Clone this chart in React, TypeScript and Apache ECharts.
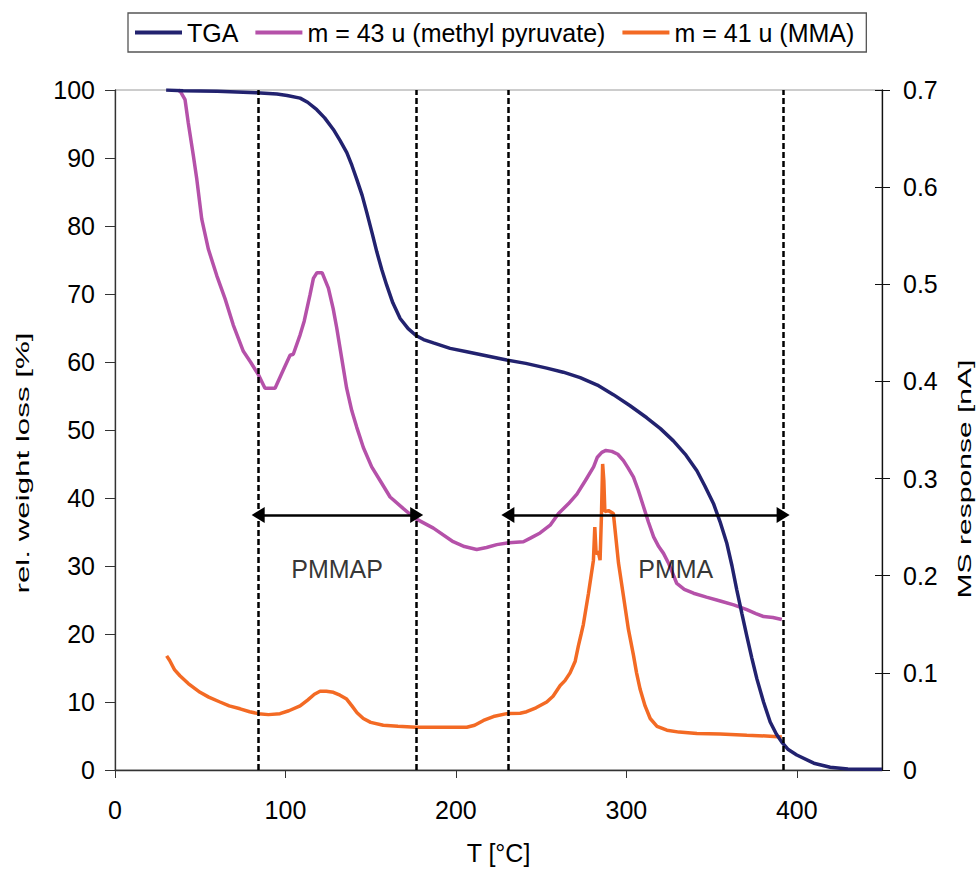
import React, { useEffect, useRef } from "react";
import * as echarts from "echarts";

// TGA curve: temperature [°C] and relative weight [%]
const tgaT = [30, 40, 60, 83, 95, 101, 108.6, 113, 118.4, 123, 128.1, 132, 136, 139, 141.8, 145, 147.7, 151, 153.6, 156.5, 159.4, 163, 167.3, 172, 176.6, 181, 186.8, 196.6, 206.4, 214.2, 229.8, 241, 253.3, 263, 272.9, 283, 292.4, 302, 312, 320, 327.6, 335, 341.4, 346, 351.1, 355, 359, 362, 364.8, 367.8, 370.7, 373.6, 376.6, 380.5, 384.4, 388, 391.2, 395, 400, 410, 419.6, 430, 440, 450];
const tgaW = [100, 99.9, 99.8, 99.6, 99.4, 99.2, 98.8, 98.2, 97.1, 95.9, 94.2, 92.6, 90.8, 88.9, 86.9, 84.5, 82.0, 78.8, 76.2, 73.6, 71.3, 68.7, 66.4, 64.9, 63.9, 63.3, 62.8, 62.0, 61.5, 61.1, 60.3, 59.8, 59.1, 58.5, 57.7, 56.6, 55.2, 53.6, 51.8, 50.2, 48.4, 46.3, 44.0, 41.8, 39.2, 36.5, 33.3, 30.0, 26.5, 23.0, 19.7, 16.5, 13.4, 10.0, 7.05, 5.3, 4.1, 3.0, 2.2, 1.0, 0.4, 0.15, 0.1, 0.1];

// m = 43 u (methyl pyruvate): temperature and MS response [nA]
const m43T = [37, 38.5, 41.1, 43, 46, 48, 50.9, 54.8, 59.7, 64.6, 69.4, 75.3, 79.5, 84.1, 88, 93.9, 98.8, 102.7, 104.6, 108.6, 111, 114.4, 116.4, 118.5, 121.5, 125.2, 128, 130.1, 133, 135.9, 138.9, 141.8, 145.7, 150.6, 155.5, 161.4, 169.2, 176.1, 186.8, 198.4, 205, 212.2, 218, 224, 231, 239.6, 244, 249.4, 255.3, 260.2, 266, 271, 276, 280.8, 283, 285.6, 288, 291.5, 295, 298.3, 301, 304.2, 307, 310.1, 313, 316, 319, 321.8, 325, 329.6, 334, 339.4, 347, 355.1, 363, 370.7, 376, 380.5, 386, 391.2];
const m43V = [0.7, 0.698, 0.69, 0.666, 0.632, 0.608, 0.567, 0.536, 0.509, 0.485, 0.458, 0.431, 0.42, 0.407, 0.393, 0.393, 0.412, 0.427, 0.428, 0.448, 0.462, 0.489, 0.506, 0.512, 0.512, 0.496, 0.475, 0.455, 0.424, 0.393, 0.37, 0.353, 0.332, 0.312, 0.298, 0.281, 0.269, 0.259, 0.249, 0.235, 0.23, 0.227, 0.229, 0.232, 0.234, 0.235, 0.239, 0.244, 0.252, 0.264, 0.274, 0.284, 0.298, 0.312, 0.322, 0.327, 0.329, 0.328, 0.325, 0.3185, 0.311, 0.3015, 0.288, 0.271, 0.255, 0.24, 0.23, 0.223, 0.212, 0.192, 0.186, 0.182, 0.178, 0.174, 0.17, 0.165, 0.161, 0.158, 0.157, 0.155];

// m = 41 u (MMA): temperature and MS response [nA]
const m41T = [30.3, 32, 35, 38.1, 43, 49.9, 55, 61.6, 67, 73.4, 79, 84.1, 90, 96.8, 102, 108.6, 113, 117, 120.3, 124, 128.1, 132, 135.9, 139, 142, 145.7, 150, 157.4, 166, 176.6, 190, 206.4, 211, 216.2, 222, 229.8, 237.7, 241.5, 247, 253.3, 257, 261.2, 264, 267, 270, 271.9, 273.5, 274.8, 277.8, 280.7, 281.5, 282.3, 283.5, 284.6, 285.4, 286.1, 286.8, 287.4, 289.5, 292.4, 295.4, 298.3, 301.2, 304.2, 306, 308.1, 311, 314, 318, 323.8, 331, 341.4, 355, 370.7, 382, 391.2];
const m41V = [0.1175, 0.113, 0.103, 0.097, 0.089, 0.08, 0.075, 0.07, 0.066, 0.063, 0.06, 0.058, 0.057, 0.058, 0.061, 0.066, 0.072, 0.078, 0.081, 0.081, 0.08, 0.077, 0.073, 0.066, 0.059, 0.053, 0.049, 0.046, 0.045, 0.044, 0.044, 0.044, 0.046, 0.051, 0.055, 0.058, 0.0585, 0.06, 0.064, 0.07, 0.076, 0.087, 0.092, 0.1, 0.112, 0.128, 0.14, 0.15, 0.182, 0.216, 0.25, 0.222, 0.225, 0.216, 0.262, 0.315, 0.298, 0.266, 0.267, 0.264, 0.213, 0.179, 0.145, 0.118, 0.1, 0.083, 0.066, 0.053, 0.045, 0.041, 0.039, 0.0375, 0.037, 0.0358, 0.035, 0.034];

// Annotations
const stageBounds = [84, 177, 230.5, 392];
const arrowLevel = 37.5;
const stageLabels = ["PMMAP", "PMMA"];
const stageLabelT = [130.3, 329];
const stageLabelY = [29.5, 29.5];

const seriesNames = ["TGA", "m = 43 u (methyl pyruvate)", "m = 41 u (MMA)"];
const colors = ["#22226f", "#b551a9", "#f36a24"];

const FONT = "Liberation Sans";

const zip = (a: number[], b: number[]) => a.map((x, i) => [x, b[i]]);

export default function App() {
  const ref = useRef<HTMLDivElement>(null);
  useEffect(() => {
    if (!ref.current) return;
    const chart = echarts.init(ref.current, undefined, { renderer: "svg" });
    const labelStyle = { fontFamily: FONT, fontSize: 25, color: "#000" };
    chart.setOption({
      animation: false,
      backgroundColor: "#fff",
      grid: { left: 115, right: 94, top: 90, bottom: 95, show: true, borderColor: "#9a9a9a", borderWidth: 1 },
      legend: {
        data: seriesNames,
        left: 128,
        top: 13,
        padding: [7, 12, 7, 7],
        borderColor: "#555",
        borderWidth: 1.3,
        icon: "rect",
        itemWidth: 47,
        itemHeight: 4,
        itemGap: 17,
        textStyle: { fontFamily: FONT, fontSize: 25, color: "#000" },
      },
      xAxis: {
        type: "value",
        min: 0,
        max: 450,
        interval: 100,
        name: "T [°C]",
        nameLocation: "middle",
        nameGap: 70,
        nameTextStyle: { fontFamily: FONT, fontSize: 25, color: "#000" },
        axisLine: { lineStyle: { color: "#333", width: 1.3 } },
        axisTick: { show: true, length: 8, lineStyle: { color: "#333" } },
        axisLabel: { ...labelStyle, margin: 27, showMaxLabel: false },
        splitLine: { show: false },
      },
      yAxis: [
        {
          type: "value",
          min: 0,
          max: 100,
          interval: 10,
          position: "left",
          axisLine: { show: true, lineStyle: { color: "#333", width: 1.3 } },
          axisTick: { show: true, length: 10, lineStyle: { color: "#333" } },
          axisLabel: { ...labelStyle, margin: 20 },
          splitLine: { show: false },
        },
        {
          type: "value",
          min: 0,
          max: 0.7,
          interval: 0.1,
          position: "right",
          axisLine: { show: true, lineStyle: { color: "#111", width: 1.3 } },
          axisTick: { show: true, length: 8, lineStyle: { color: "#111" } },
          axisLabel: { ...labelStyle, margin: 21 },
          splitLine: { show: false },
        },
        {
          type: "value",
          min: 0,
          max: 0.7,
          interval: 0.1,
          position: "right",
          offset: 0,
          axisLine: { show: false },
          axisTick: { show: true, inside: true, length: 7, lineStyle: { color: "#111" } },
          axisLabel: { show: false },
          splitLine: { show: false },
        },
      ],
      graphic: [
        {
          type: "text",
          x: 23,
          y: 463,
          rotation: Math.PI / 2,
          scaleX: 1.74,
          style: {
            text: "rel. weight loss [%]",
            fontFamily: FONT,
            fontSize: 18,
            fill: "#000",
            align: "center",
            verticalAlign: "middle",
            textAlign: "center",
            textVerticalAlign: "middle",
          },
        },
        {
          type: "text",
          x: 965,
          y: 479,
          rotation: Math.PI / 2,
          scaleX: 1.67,
          style: {
            text: "MS response [nA]",
            fontFamily: FONT,
            fontSize: 18,
            fill: "#000",
            align: "center",
            verticalAlign: "middle",
            textAlign: "center",
            textVerticalAlign: "middle",
          },
        },
      ],
      series: [
        {
          name: seriesNames[1],
          type: "line",
          yAxisIndex: 1,
          data: zip(m43T, m43V),
          symbol: "none",
          color: colors[1],
          lineStyle: { color: colors[1], width: 3.5 },
          z: 2,
        },
        {
          name: seriesNames[2],
          type: "line",
          yAxisIndex: 1,
          data: zip(m41T, m41V),
          symbol: "none",
          color: colors[2],
          lineStyle: { color: colors[2], width: 3.5 },
          z: 3,
        },
        {
          name: seriesNames[0],
          type: "line",
          yAxisIndex: 0,
          data: zip(tgaT, tgaW),
          symbol: "none",
          color: colors[0],
          lineStyle: { color: colors[0], width: 3.5 },
          z: 4,
          markLine: {
            silent: true,
            symbol: "none",
            label: { show: false },
            lineStyle: { color: "#000", width: 2.5, type: [6, 3] },
            data: stageBounds.map((t) => ({ xAxis: t })),
          },
        },
        {
          name: "annotations",
          type: "scatter",
          yAxisIndex: 0,
          symbolSize: 0,
          silent: true,
          data: stageLabels.map((n, i) => ({ value: [stageLabelT[i], stageLabelY[i]], name: n })),
          label: {
            show: true,
            position: "inside",
            formatter: (p: any) => p.name,
            fontFamily: FONT,
            fontSize: 25,
            color: "#000",
          },
          z: 5,
          markLine: {
            silent: true,
            symbol: ["triangle", "triangle"],
            symbolSize: [16, 13],
            label: { show: false },
            lineStyle: { color: "#000", width: 2.5, type: "solid" },
            data: [
              [{ coord: [stageBounds[0], arrowLevel] }, { coord: [stageBounds[1], arrowLevel] }],
              [{ coord: [stageBounds[2], arrowLevel] }, { coord: [stageBounds[3], arrowLevel] }],
            ],
          },
        },
      ],
    });
    return () => chart.dispose();
  }, []);
  return <div ref={ref} style={{ position: "fixed", left: 0, top: 0, width: 976, height: 870 }} />;
}
